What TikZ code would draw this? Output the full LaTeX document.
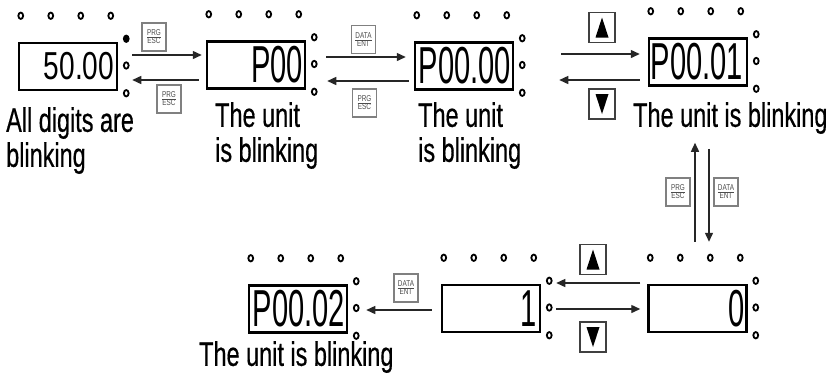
\documentclass[tikz,border=0pt]{standalone}
\usepackage{fontspec}
\setmainfont{Liberation Sans}
\newfontfamily\lblfont[FakeBold=0.6]{Liberation Sans}
\usetikzlibrary{arrows.meta,calc}
\newcommand\nar[1]{\scalebox{0.69}[1]{#1}}
\newcommand\keyfnt{\fontsize{8.5}{8.5}\selectfont}
\newcommand\keylab[2]{$\frac{\mbox{\keyfnt\scalebox{0.75}[1]{#1}}}{\mbox{\keyfnt\scalebox{0.75}[1]{#2}}}$}
\newcommand\lcdleds[2]{%
  \foreach \dx in {3,33,63,93} \draw[led] ($(#1.north west)+(\dx,-26)$) ellipse (2.4 and 3.2);
  \draw[led,#2] ($(#1.north east)+(8,-3)$) ellipse (2.4 and 3.2);
  \draw[led] ($(#1.east)+(8,-1)$) ellipse (2.4 and 3.2);
  \draw[led] ($(#1.south east)+(8,2)$) ellipse (2.4 and 3.2);
}
\newcommand\uptri[1]{\fill ($(#1.center)+(0,-10)$) -- ($(#1.center)+(6.5,10)$) -- ($(#1.center)+(-6.5,10)$) -- cycle;}
\newcommand\dntri[1]{\fill ($(#1.center)+(0,10)$) -- ($(#1.center)+(6.5,-10)$) -- ($(#1.center)+(-6.5,-10)$) -- cycle;}
\tikzset{
 lcd/.style={draw, line width=2.5pt, minimum width=98pt, minimum height=47pt, inner sep=0},
 seg/.style={inner sep=0, anchor=east, font=\fontsize{52}{52}\selectfont},
 led/.style={line width=1.8pt},
 keybox/.style={draw=black!50, line width=1.3pt, minimum width=24pt, minimum height=28pt, inner sep=0, text=black!70},
 btn/.style={draw=black!75, line width=1.3pt, minimum width=26pt, minimum height=30pt, inner sep=0},
 arr/.style={line width=1.4pt, draw=black!85, -{Triangle[length=9pt,width=8pt]}},
 lbl/.style={inner sep=0, anchor=north west, align=left, font=\lblfont\fontsize{34}{35}\selectfont},
}
\begin{document}
\begin{tikzpicture}[x=1pt,y=-1pt]
\useasboundingbox (0,0) rectangle (832,373);
\fill[white] (0,0) rectangle (832,373);
% displays
\node[lcd] (d1) at (68,66.5) {};
\node[lcd] (d2) at (256,65) {};
\node[lcd] (d3) at (464,66) {};
\node[lcd] (d4) at (698,62) {};
\node[lcd] (d5) at (697.5,308.5) {};
\node[lcd] (d6) at (491,308.5) {};
\node[lcd] (d7) at (298,309) {};
\lcdleds{d1}{fill=black}
\lcdleds{d2}{}
\lcdleds{d3}{}
\lcdleds{d4}{}
\lcdleds{d5}{}
\lcdleds{d6}{}
\lcdleds{d7}{}
% display contents
\node[seg, font=\fontsize{39}{39}\selectfont] (t1) at ([xshift=-4pt]d1.east) {\scalebox{0.72}[1]{50.00}};
\node[seg] (t2) at ([xshift=-3pt]d2.east) {\scalebox{0.56}[1]{P00}};
\node[seg] (t3) at ([xshift=-3pt]d3.east) {\scalebox{0.56}[1]{P00.00}};
\node[seg] (t4) at ([xshift=-5pt]d4.east) {\scalebox{0.56}[1]{P00.01}};
\node[seg] (t5) at ([xshift=-3pt]d5.east) {\scalebox{0.56}[1]{0}};
\node[seg] (t6) at ([xshift=-4pt]d6.east) {\scalebox{0.56}[1]{1}};
\node[seg] (t7) at ([xshift=-3pt]d7.east) {\scalebox{0.56}[1]{P00.02}};
% key badges
\node[keybox] (k1) at (154,37) {\keylab{PRG}{ESC}};
\node[keybox] (k2) at (169,99) {\keylab{PRG}{ESC}};
\node[keybox] (k3) at (363.5,39.5) {\keylab{DATA}{ENT}};
\node[keybox] (k4) at (364.5,103) {\keylab{PRG}{ESC}};
\node[keybox] (k5) at (678,192) {\keylab{PRG}{ESC}};
\node[keybox] (k6) at (726,192) {\keylab{DATA}{ENT}};
\node[keybox] (k7) at (406,288) {\keylab{DATA}{ENT}};
% up/down buttons
\node[btn] (u1) at (602,27.5) {};
\node[btn] (v1) at (602,104) {};
\node[btn] (u2) at (593,259.5) {};
\node[btn] (v2) at (593,337) {};
\uptri{u1}\dntri{v1}\uptri{u2}\dntri{v2}
% arrows
\draw[arr] ($(d1.east)+(14,-11.5)$) -- ($(d2.west)+(-4,-10)$);
\draw[arr] ($(d2.west)+(-7,15)$) -- ($(d1.east)+(14,13.5)$);
\draw[arr] ($(d2.east)+(20,-8)$) -- ($(d3.west)+(-8,-9)$);
\draw[arr] ($(d3.west)+(-5,15)$) -- ($(d2.east)+(21,16)$);
\draw[arr] ($(d3.east)+(47,-12)$) -- ($(d4.west)+(-8,-8)$);
\draw[arr] ($(d4.west)+(-8,18)$) -- ($(d3.east)+(45,14)$);
\draw[arr] ($(d5.north)+(-2.5,-42)$) -- ($(d4.south)+(-3,56)$);
\draw[arr] ($(d4.south)+(11,62)$) -- ($(d5.north)+(11.5,-42)$);
\draw[arr] ($(d5.west)+(-7,-25.5)$) -- ($(d6.east)+(15,-25.5)$);
\draw[arr] ($(d6.east)+(15,0.5)$) -- ($(d5.west)+(-7,0.5)$);
\draw[arr] ($(d6.west)+(-9,1.5)$) -- ($(d7.east)+(18,1)$);
% labels
\node[lbl] (l1) at (6,107) {\nar{All digits are}\\\nar{blinking}};
\node[lbl] (l2) at (215,102) {\nar{The unit}\\\nar{is blinking}};
\node[lbl] (l3) at (418,102) {\nar{The unit}\\\nar{is blinking}};
\node[lbl] (l4) at (633,102) {\nar{The unit is blinking}};
\node[lbl] (l5) at (199,341) {\nar{The unit is blinking}};
\end{tikzpicture}
\end{document}
